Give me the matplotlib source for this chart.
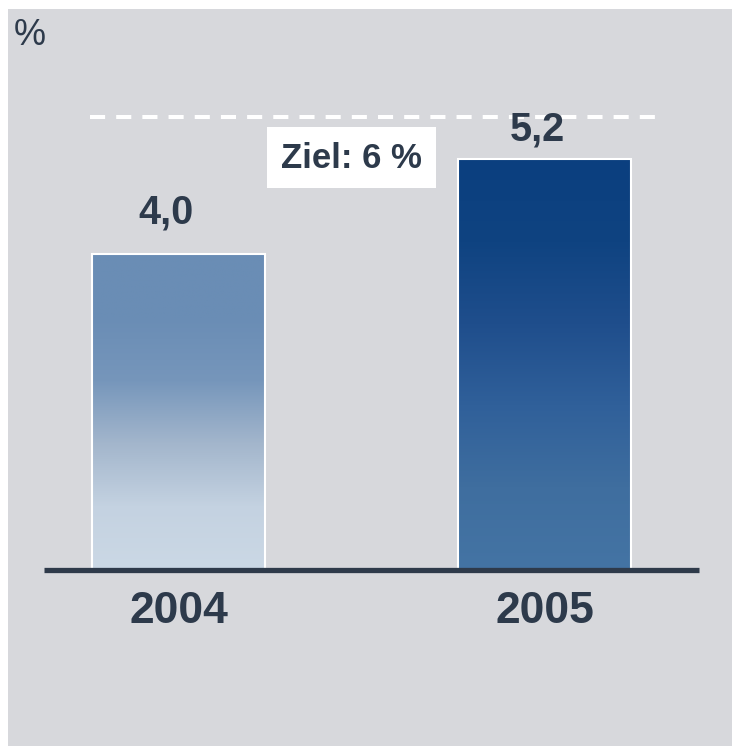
import numpy as np
import matplotlib
matplotlib.use('Agg')
import matplotlib.pyplot as plt
from matplotlib.colors import LinearSegmentedColormap
from matplotlib.patches import Rectangle

# Daten
jahre = ['2004', '2005']
werte = [4.0, 5.2]
wert_labels = ['4,0', '5,2']
ziel = 5.73          # Position der gestrichelten Linie (wie im Bild)
ziel_label = 'Ziel: 6 %'

bg = '#d7d8dc'
txt = '#2d3a4b'
plt.rcParams['font.family'] = ['Liberation Sans', 'DejaVu Sans']

W, H = 732, 746
fig = plt.figure(figsize=(W / 100, H / 100), dpi=100)
fig.patch.set_facecolor('white')

# Achse ueber der grauen Flaeche (oben 9 px, links 8 px weiss)
ax = fig.add_axes([8 / W, 0, (W - 8) / W, (H - 9) / H])
ax.set_facecolor(bg)
for s in ax.spines.values():
    s.set_visible(False)
ax.set_xticks([])
ax.set_yticks([])

x = np.arange(len(jahre))
breite = 173 / 366

verlaeufe = [
    ['#cbd8e5', '#c4d2e1', '#a3b6cc', '#7696bb', '#6a8db5', '#6a8db5'],
    ['#4474a4', '#3f6e9f', '#30609a', '#1f4e8c', '#0f4381', '#0b3f7f'],
]

bars = ax.bar(x, werte, width=breite, color='none', edgecolor='none', zorder=2)
for bar, farben in zip(bars, verlaeufe):
    cmap = LinearSegmentedColormap.from_list('v', farben)
    grad = np.linspace(0, 1, 256).reshape(-1, 1)
    x0, y0 = bar.get_x(), bar.get_y()
    im = ax.imshow(grad, cmap=cmap, origin='lower', aspect='auto',
                   extent=[x0, x0 + bar.get_width(), y0, y0 + bar.get_height()],
                   zorder=2)
    im.set_clip_path(bar)
ax.bar(x, werte, width=breite, color='none', edgecolor='white', linewidth=1.5, zorder=3)

# Grundlinie
ax.plot([-0.367, 1.422], [0, 0], color='#2e3a4a', linewidth=3.8,
        solid_capstyle='butt', zorder=4)

# Ziellinie
ax.plot([-0.242, 1.316], [ziel, ziel], color='white', linewidth=2.9,
        linestyle=(0, (3.75, 2.75)), dash_capstyle='butt', zorder=1)

# Beschriftungen
ax.text(-0.035, 4.39, wert_labels[0], ha='center', va='baseline',
        fontsize=28.5, fontweight='bold', color=txt)
ax.text(0.981, 5.44, wert_labels[1], ha='center', va='baseline',
        fontsize=28.5, fontweight='bold', color=txt)
for xi, j in zip(x, jahre):
    ax.text(xi, -0.671, j, ha='center', va='baseline',
            fontsize=32, fontweight='bold', color=txt)

ax.set_xlim(-(178.5 - 8) / 366, (W - 178.5) / 366)
ax.set_ylim(-176 / 79, (737 - 176) / 79)

# Zielbox
fig.patches.append(Rectangle((267 / W, 1 - 188 / H), 169 / W, 61 / H,
                             transform=fig.transFigure, facecolor='white',
                             edgecolor='none', zorder=5))
fig.text(351.5 / W, 1 - 168 / H, ziel_label, ha='center', va='baseline',
         fontsize=25, fontweight='bold', color=txt, zorder=6)

fig.text(14 / W, 1 - 45 / H, '%', ha='left', va='baseline',
         fontsize=26, color=txt)

fig.savefig('out.png', dpi=100, facecolor=fig.get_facecolor())
